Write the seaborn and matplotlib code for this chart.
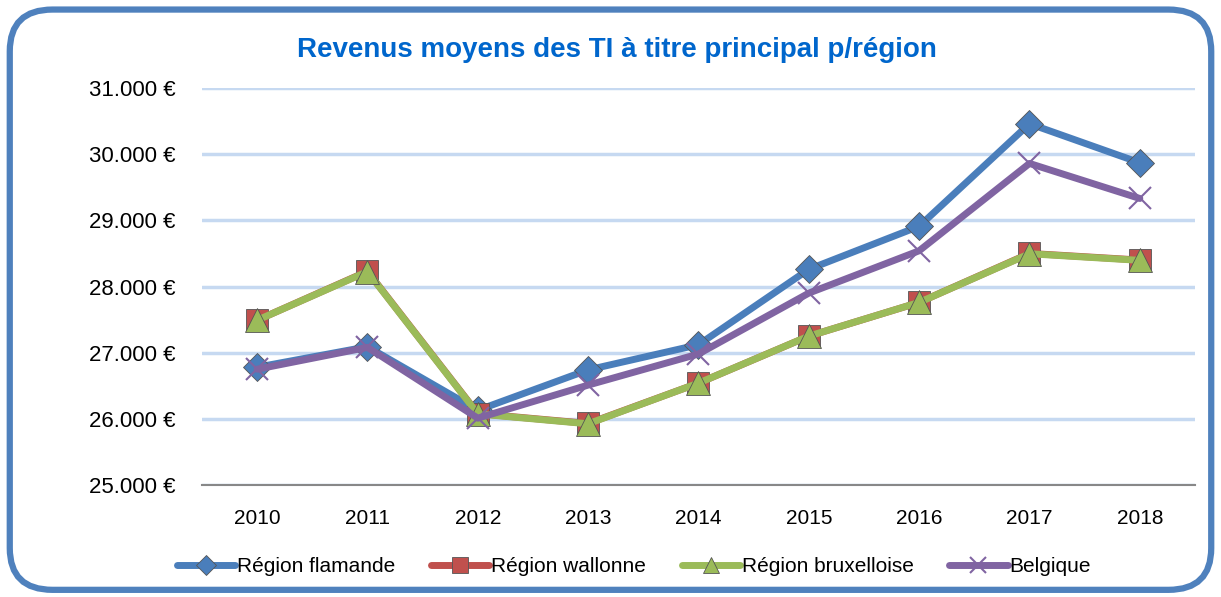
import numpy as np
import pandas as pd
import seaborn as sns
import matplotlib.pyplot as plt
from matplotlib.patches import FancyBboxPatch
from matplotlib.ticker import FuncFormatter

years = ["2010", "2011", "2012", "2013", "2014", "2015", "2016", "2017", "2018"]
flamande = [26780, 27090, 26130, 26740, 27120, 28260, 28910, 30460, 29870]
wallonne = [27490, 28230, 26080, 25930, 26540, 27250, 27760, 28500, 28400]
bruxelloise = [27490, 28225, 26075, 25925, 26540, 27250, 27760, 28495, 28395]
belgique = [26750, 27080, 26010, 26510, 26980, 27900, 28540, 29860, 29330]

series = ["Région flamande", "Région wallonne", "Région bruxelloise", "Belgique"]
colors = ["#4A7EBB", "#C0504D", "#9BBB59", "#8064A2"]
marks = ["D", "s", "^", "x"]
msizes = [14, 16, 17, 16]

df = pd.DataFrame({"year": years * 4,
                   "pos": list(range(9)) * 4,
                   "value": flamande + wallonne + bruxelloise + belgique,
                   "region": np.repeat(series, 9)})

sns.set_style("white")
plt.rcParams['font.family'] = ['Liberation Sans Narrow', 'Liberation Sans', 'DejaVu Sans']
plt.rcParams['text.color'] = 'black'
plt.rcParams['xtick.color'] = 'black'
plt.rcParams['ytick.color'] = 'black'

fig = plt.figure(figsize=(12.21, 5.97), dpi=100)
ax = fig.add_axes([0.1654, 0.1876, 0.8133, 0.665])

for i, s in enumerate(series):
    sub = df[df.region == s]
    sns.lineplot(data=sub, x="pos", y="value", ax=ax, color=colors[i], lw=5,
                 marker=marks[i], markersize=msizes[i],
                 markeredgecolor=colors[i] if marks[i] == "x" else "#555555",
                 markeredgewidth=1.5 if marks[i] == "x" else 0.6,
                 label=s, zorder=3 + i)

ax.set_xlim(-0.5, 8.5)
ax.set_ylim(25000, 31000)
ax.set_yticks(range(25000, 31001, 1000))
ax.yaxis.set_major_formatter(FuncFormatter(lambda v, p: "{:,.0f} €".format(v).replace(",", ".")))
ax.set_xticks(range(9))
ax.set_xticklabels(years)
ax.set_xlabel("")
ax.set_ylabel("")
ax.grid(axis="y", color="#C6D9F1", lw=2.5)
ax.grid(axis="x", visible=False)
for sp in ["left", "right", "top"]:
    ax.spines[sp].set_visible(False)
ax.spines["bottom"].set_color("#888888")
ax.spines["bottom"].set_linewidth(1.5)
ax.tick_params(axis="y", length=0, pad=19, labelsize=16)
ax.tick_params(axis="x", length=0, pad=17, labelsize=15)

fig.text(0.505, 0.916, "Revenus moyens des TI à titre principal p/région", ha="center", va="center",
         fontsize=20, fontweight="bold", color="#0066CC")

ax.legend(loc="center", bbox_to_anchor=(0.435, -0.205), ncol=4, frameon=False, fontsize=15,
          handlelength=2.8, handletextpad=0.1, columnspacing=1.7, markerscale=0.7)

fig.patches.append(FancyBboxPatch((0.008, 0.012), 0.984, 0.972, boxstyle="round,pad=0,rounding_size=0.035",
                                  transform=fig.transFigure, fill=False, edgecolor="#4F81BD", lw=4.5,
                                  mutation_aspect=2.0))

fig.savefig("out.png", dpi=100)
